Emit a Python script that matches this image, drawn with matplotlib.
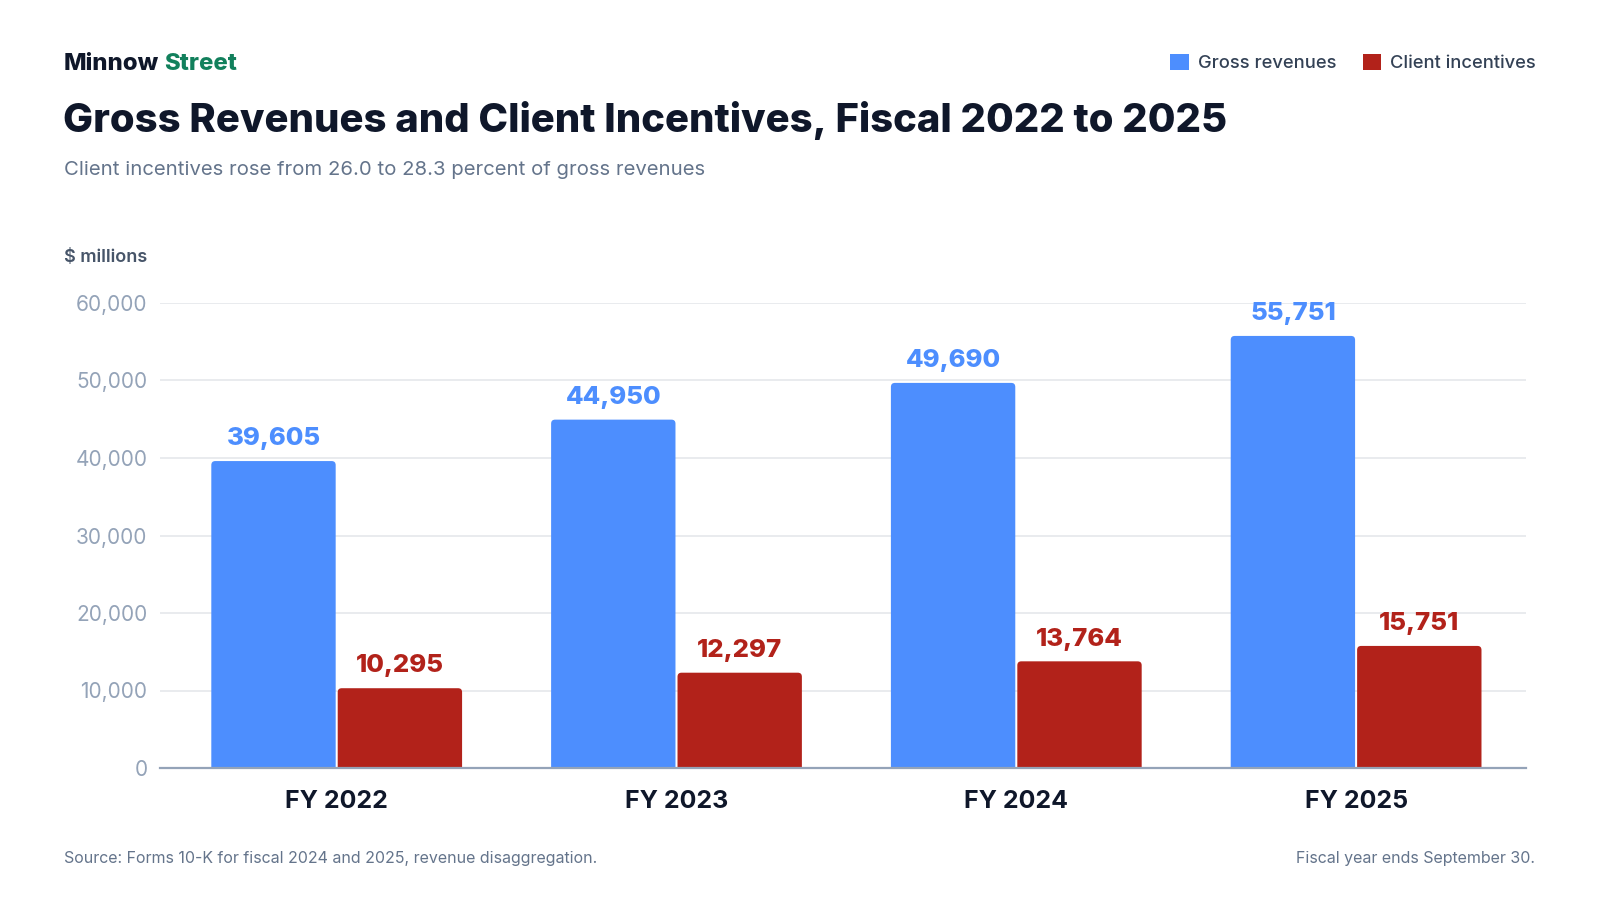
import matplotlib
matplotlib.use("Agg")
import matplotlib.pyplot as plt
from matplotlib.patches import Patch, FancyBboxPatch
import numpy as np

plt.rcParams['font.family'] = ['Inter', 'DejaVu Sans']

# data ($ millions)
years = ["FY 2022", "FY 2023", "FY 2024", "FY 2025"]
gross_revenues = [39605, 44950, 49690, 55751]
client_incentives = [10295, 12297, 13764, 15751]
y_ticks = [0, 10000, 20000, 30000, 40000, 50000, 60000]

BLUE = "#4d8efe"
RED = "#b2221a"
DARK = "#0f172a"
GREEN = "#12805c"
GRAY = "#64748b"
TICK_GRAY = "#94a3b8"

W, H = 1600, 900


def fy(y_px):
    # pixel from top -> figure fraction
    return 1 - y_px / H


fig = plt.figure(figsize=(16, 9), dpi=100)
fig.patch.set_facecolor("white")

# axes placed to match the reference plot area
ax = fig.add_axes([160 / W, fy(768), (1526 - 160) / W, (768 - 303) / H])

x = np.arange(len(years))
width = 0.366
offset = 0.186

ax.set_xlim(-0.52, 3.5)
ax.set_ylim(0, 60000)

blue_bars = ax.bar(x - offset, gross_revenues, width, color=BLUE, zorder=3)
red_bars = ax.bar(x + offset, client_incentives, width, color=RED, zorder=3)

# swap plain rectangles for ones with slightly rounded tops
fig.canvas.draw()
p0 = ax.transData.transform((0, 0))
p1 = ax.transData.transform((1, 1))
px_x = p1[0] - p0[0]
px_y = p1[1] - p0[1]
r_px = 4
aspect = px_x / px_y
for rect in list(blue_bars) + list(red_bars):
    bx, by = rect.get_xy()
    bw, bh = rect.get_width(), rect.get_height()
    ext = r_px / px_y   # push the rounded bottom below zero so it gets clipped
    rounded = FancyBboxPatch((bx, by - ext), bw, bh + ext,
                             boxstyle=f"round,pad=0,rounding_size={r_px / px_x}",
                             mutation_aspect=aspect,
                             facecolor=rect.get_facecolor(), edgecolor="none", zorder=3)
    rect.set_visible(False)
    ax.add_patch(rounded)

# value labels above bars
for xi, v in zip(x, gross_revenues):
    ax.annotate(f"{v:,}", (xi - offset, v), xytext=(0, 16), textcoords="offset points",
                ha="center", va="center", fontsize=18.5, fontweight=800, color=BLUE)
for xi, v in zip(x, client_incentives):
    ax.annotate(f"{v:,}", (xi + offset, v), xytext=(0, 16), textcoords="offset points",
                ha="center", va="center", fontsize=18.5, fontweight=800, color=RED)

ax.set_yticks(y_ticks)
ax.set_yticklabels([f"{t:,}" for t in y_ticks])
ax.set_xticks(x)
ax.set_xticklabels(years)

ax.grid(axis="y", color="#e5e7eb", linewidth=1.2, zorder=0)
ax.set_axisbelow(True)
for side in ["top", "right", "left"]:
    ax.spines[side].set_visible(False)
ax.spines["bottom"].set_color(TICK_GRAY)
ax.spines["bottom"].set_linewidth(1.6)
ax.spines["bottom"].set_zorder(4)

ax.tick_params(axis="y", length=0, pad=9, labelsize=15, labelcolor=TICK_GRAY)
ax.tick_params(axis="x", length=0, pad=15.5, labelsize=18, labelcolor=DARK)
for lbl in ax.get_xticklabels():
    lbl.set_fontweight("bold")

# header
brand = fig.text(64 / W, fy(64), "Minnow", fontsize=17.2, fontweight=800, color=DARK,
                 va="center", ha="left")
ax.annotate("Street", xy=(1, 0.5), xycoords=brand, xytext=(3.5, 0), textcoords="offset points",
            fontsize=17.2, fontweight=800, color=GREEN, va="center", ha="left",
            annotation_clip=False)
fig.text(63 / W, fy(121), "Gross Revenues and Client Incentives, Fiscal 2022 to 2025",
         fontsize=28.8, fontweight=800, color=DARK, va="center", ha="left")
fig.text(64 / W, fy(170), "Client incentives rose from 26.0 to 28.3 percent of gross revenues",
         fontsize=14.6, color=GRAY, va="center", ha="left")
fig.text(64 / W, fy(258), "$ millions", fontsize=13, fontweight="semibold", color="#475569",
         va="center", ha="left")

# legend
handles = [Patch(facecolor=BLUE, edgecolor="none", label="Gross revenues"),
           Patch(facecolor=RED, edgecolor="none", label="Client incentives")]
leg = fig.legend(handles=handles, loc="center right", bbox_to_anchor=(1536 / W, fy(63)),
                 ncol=2, frameon=False, fontsize=13.2, handlelength=1.0, handleheight=1.0,
                 handletextpad=0.5, columnspacing=1.45, borderpad=0, borderaxespad=0)
for t in leg.get_texts():
    t.set_color("#334155")
    t.set_fontweight("medium")

# footer
fig.text(64 / W, fy(859), "Source: Forms 10-K for fiscal 2024 and 2025, revenue disaggregation.",
         fontsize=11.5, color=GRAY, va="center", ha="left")
fig.text(1535 / W, fy(859), "Fiscal year ends September 30.",
         fontsize=11.5, color=GRAY, va="center", ha="right")

fig.savefig("out.png", dpi=100, facecolor="white")
